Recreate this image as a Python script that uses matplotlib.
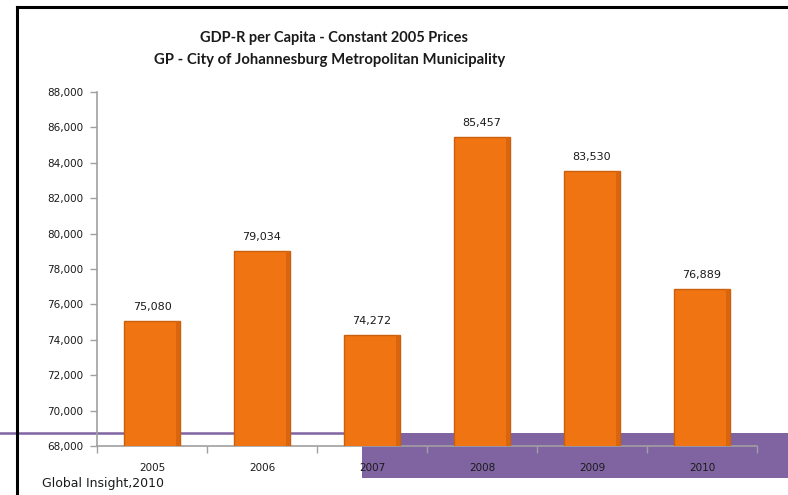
import matplotlib
matplotlib.use("Agg")
import matplotlib.pyplot as plt
from matplotlib.patches import Rectangle
from matplotlib.lines import Line2D

years = ["2005", "2006", "2007", "2008", "2009", "2010"]
gdp_per_capita = [75080, 79034, 74272, 85457, 83530, 76889]
y_ticks = [68000, 70000, 72000, 74000, 76000, 78000, 80000, 82000, 84000, 86000, 88000]

title_lines = ["GDP-R per Capita - Constant 2005 Prices",
               "GP - City of Johannesburg Metropolitan Municipality"]
source_note = "Global Insight,2010"

ORANGE = "#F07412"
ORANGE_EDGE = "#C8600E"
ORANGE_SHADE = "#D9650E"
PURPLE = "#8064A2"
AXIS_GREY = "#A0A0A0"
TITLE_FONT = ["Lato", "DejaVu Sans"]

fig = plt.figure(figsize=(7.88, 4.95), dpi=100)
fig.patch.set_facecolor("white")

# Decorative slide elements: purple band, purple rule and black frame
fig.add_artist(Rectangle((362 / 788, 1 - 478 / 495), 1 - 362 / 788, 45 / 495,
                         transform=fig.transFigure, facecolor=PURPLE,
                         edgecolor="none", zorder=0))
fig.add_artist(Line2D([0, 362 / 788], [1 - 433 / 495] * 2, transform=fig.transFigure,
                      color=PURPLE, lw=1.8, zorder=0))
fig.add_artist(Line2D([17 / 788, 1], [1 - 7 / 495] * 2, transform=fig.transFigure,
                      color="black", lw=2.2, zorder=0))
fig.add_artist(Line2D([17 / 788, 17 / 788], [0, 1 - 7 / 495], transform=fig.transFigure,
                      color="black", lw=2.2, zorder=0))

ax = fig.add_axes([97 / 788, 1 - 446 / 495, 660 / 788, 354 / 495])
ax.patch.set_alpha(0)
ax.set_zorder(2)

x = list(range(len(years)))
bar_width = 0.51
ax.bar(x, gdp_per_capita, width=bar_width, color=ORANGE, edgecolor=ORANGE_EDGE,
       linewidth=1.0, zorder=3)
# subtle bevel shading along the right side of each bar
shade_w = 0.035
ax.bar([xi + bar_width / 2 - shade_w / 2 - 0.004 for xi in x], gdp_per_capita,
       width=shade_w, color=ORANGE_SHADE, edgecolor="none", zorder=4)
for xi, v in zip(x, gdp_per_capita):
    ax.text(xi, v + 500, f"{v:,}", ha="center", va="bottom", fontsize=8,
            family="DejaVu Sans", color="#1a1a1a")

ax.set_xlim(-0.5, len(years) - 0.5)
ax.set_ylim(68000, 88000)
ax.set_yticks(y_ticks)
ax.set_yticklabels([f"{t:,}" for t in y_ticks], fontsize=7.5, color="#1a1a1a")
ax.set_xticks(x)
ax.set_xticklabels(years, fontsize=7.5, color="#1a1a1a")
ax.tick_params(axis="x", length=0, pad=12)
ax.set_xticks([i - 0.5 for i in range(len(years) + 1)], minor=True)
ax.tick_params(axis="x", which="minor", length=5, color=AXIS_GREY, width=1)
ax.tick_params(axis="y", length=5, color=AXIS_GREY, width=1, pad=5)

for side in ("top", "right"):
    ax.spines[side].set_visible(False)
for side in ("left", "bottom"):
    ax.spines[side].set_color(AXIS_GREY)
    ax.spines[side].set_linewidth(1.2)

fig.text(334 / 788, 1 - 38 / 495, title_lines[0], ha="center", va="center",
         fontsize=10.5, fontweight="bold", family=TITLE_FONT, color="#1a1a1a")
fig.text(330 / 788, 1 - 60 / 495, title_lines[1], ha="center", va="center",
         fontsize=10.7, fontweight="bold", family=TITLE_FONT, color="#1a1a1a")
fig.text(42 / 788, 1 - 483 / 495, source_note, ha="left", va="center",
         fontsize=9, family=["DejaVu Sans"], color="#1a1a1a")

fig.savefig("out.png", dpi=100)
